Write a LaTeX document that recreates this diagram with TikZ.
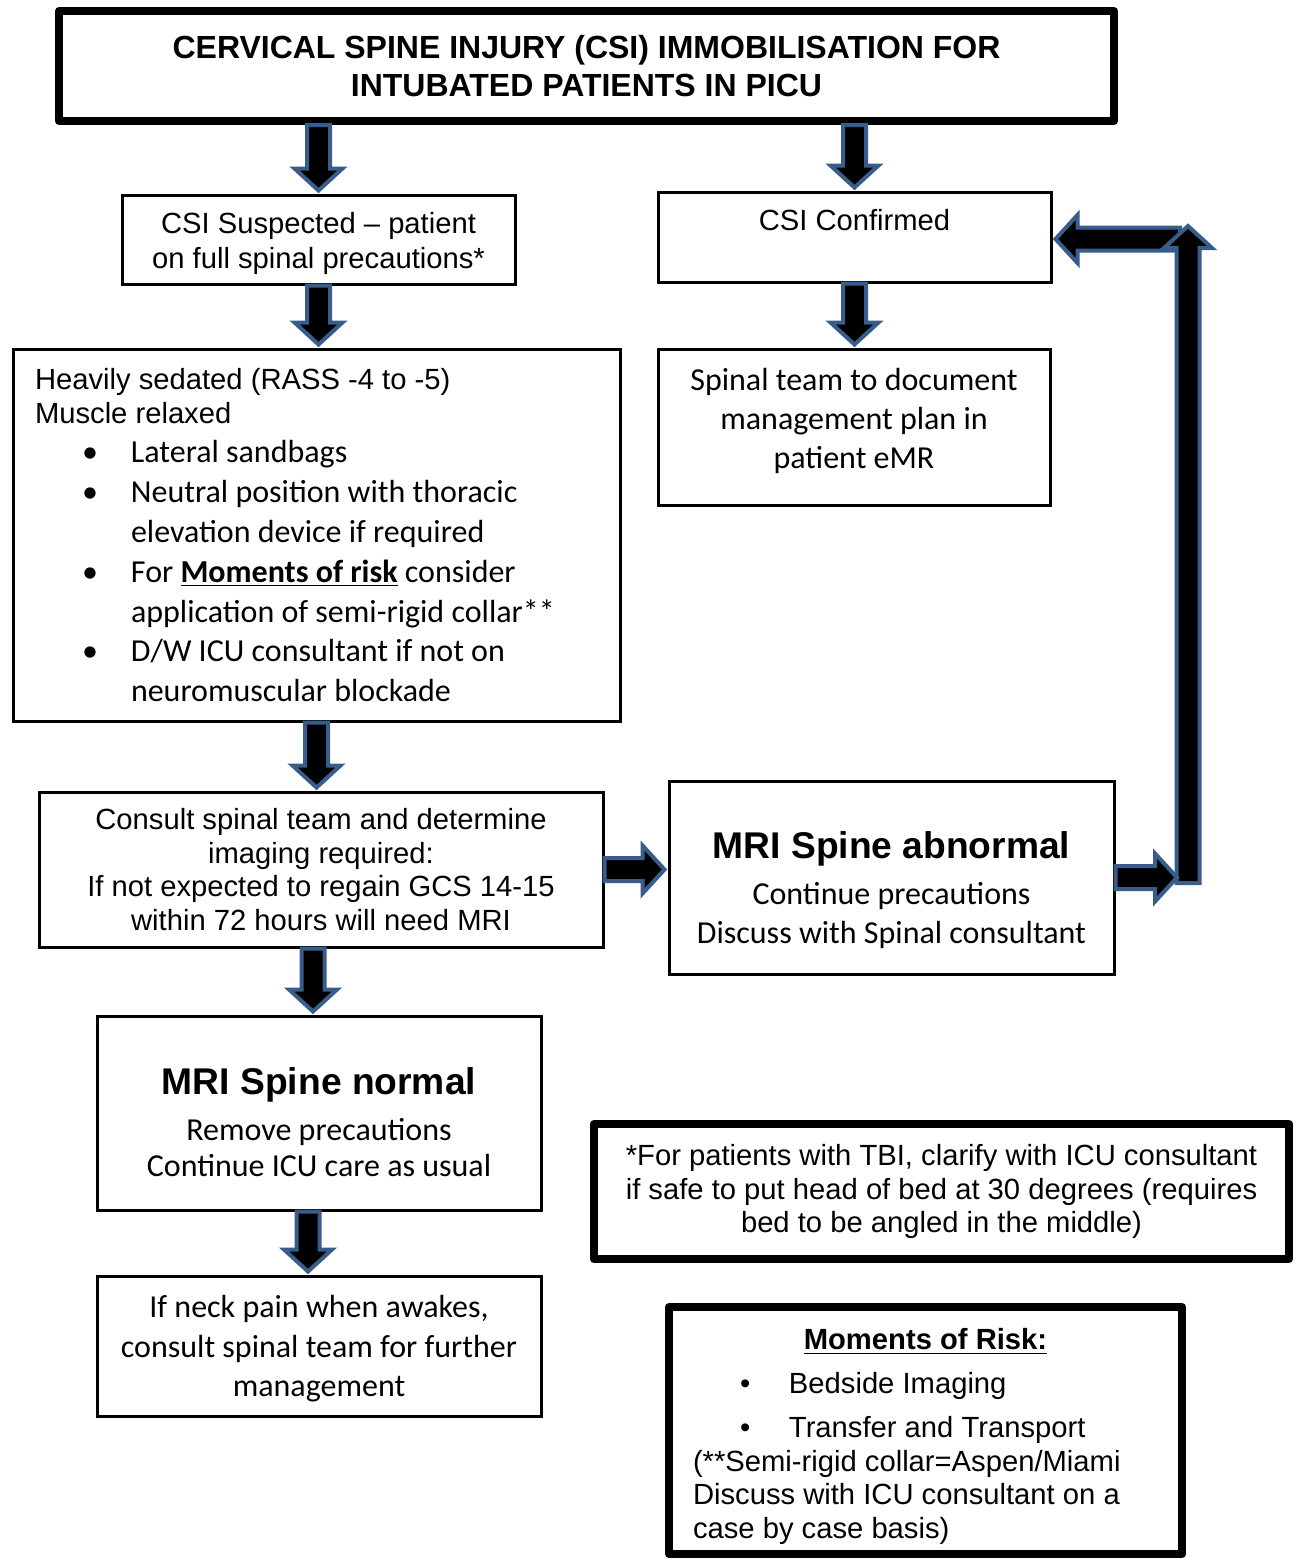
\documentclass[tikz,border=0pt]{standalone}
\usepackage{fontspec}
\setmainfont{Liberation Sans}
\newfontfamily\calibri{Carlito}
\usepackage{tikz}
\usetikzlibrary{calc}
\usetikzlibrary{positioning}
\definecolor{ArrowBlue}{RGB}{56,93,138}
\tikzset{
	box/.style={draw, line width=1.5pt, inner sep=0pt, align=flush center},
	heavybox/.style={draw, line width=4pt, line join=round, inner sep=0pt, align=flush center},
	blockarrow/.style={fill=black, draw=ArrowBlue, line width=2pt, line join=miter}
}
\newcommand{\arialText}[1]{\rmfamily\fontsize{14.6}{#1}\selectfont}
\newcommand{\calibriText}[1]{\calibri\fontsize{16}{#1}\selectfont}
\newcommand{\boxTitle}{\rmfamily\bfseries\fontsize{18.6}{22}\selectfont}
\newcommand{\bul}{\makebox[48pt][l]{\hspace{23.5pt}\textbullet}}
\newcommand{\blockArrow}[2]{%
		\coordinate (a) at #1;
		\coordinate (t) at #2;
		\coordinate (b) at ($(t)!1.5pt!(a)$);
		\coordinate (h) at ($(b)!11pt!(a)$);
		
		\filldraw [blockarrow] ($(a)!5.75pt!90:(b)$) -- ($(h)!5.75pt!-90:(a)$)
								-- ($(h)!12pt!-90:(a)$)
								-- (b)
								-- ($(h)!12pt!90:(a)$)
								-- ($(h)!5.75pt!90:(a)$)
								-- ($(a)!5.75pt!-90:(b)$) -- cycle;
}

\begin{document}
\begin{tikzpicture}[x=0.5pt, y=-0.5pt]
	
		\useasboundingbox (0,0) rectangle (1296,1559);
		
		\node [heavybox, minimum width=527.5pt, minimum height=55pt, text width=520pt,
		       font=\bfseries\fontsize{16}{19}\selectfont] (title) at (586.5,66)
			{CERVICAL SPINE INJURY (CSI) IMMOBILISATION FOR\\INTUBATED PATIENTS IN PICU};
		
		\node [box, minimum width=196.5pt, minimum height=44.5pt, text width=190pt, font={\arialText{17.5}}] (susp) at (318.5,239.5)
			{\rule{0pt}{14.6pt}CSI Suspected – patient\\on full spinal precautions*};
		\node [box, minimum width=196.5pt, minimum height=45pt, text width=190pt, font={\arialText{17.5}}] (conf) at (854.5,237)
			{CSI Confirmed\\\mbox{}};
		\node [box, minimum width=196pt, minimum height=78pt, text width=190pt, font={\calibriText{19.5}}] (spinal) at (854,427)
			{Spinal team to document\\management plan in\\patient eMR\rule[-8.3pt]{0pt}{8.3pt}};
		
		\node [box, minimum width=303.5pt, minimum height=186pt, text width=281.5pt, align=flush left] (sedated) at (316.5,535) {%
			\arialText{17}Heavily sedated (RASS -4 to -5)\\Muscle relaxed\par
			\calibriText{19.9}%
			\bul Lateral sandbags\\
			\bul Neutral position with thoracic\\
			\hspace*{48pt}elevation device if required\\
			\bul For \underline{\textbf{Moments of risk}} consider\\
			\hspace*{48pt}application of semi-rigid collar**\\
			\bul D/W ICU consultant if not on\\
			\hspace*{48pt}neuromuscular blockade\par};
		
		\node [box, minimum width=282pt, minimum height=77.5pt, text width=276pt, font={\arialText{16.9}}] (consult) at (321,869.5)
			{Consult spinal team and determine\\imaging required:\\If not expected to regain GCS 14-15\\within 72 hours will need MRI};
		\node [box, minimum width=222.5pt, minimum height=96.5pt, text width=216pt, font={\calibriText{19.5}}] (mriab) at (891.5,877.5)
			{{\boxTitle\rule{0pt}{26pt}MRI Spine abnormal}\\[3.3pt]Continue precautions\\Discuss with Spinal consultant};
		\node [box, minimum width=222pt, minimum height=97pt, text width=216pt, font={\calibriText{18}}] (mrinorm) at (319,1113)
			{{\boxTitle\rule{0pt}{22.6pt}MRI Spine normal}\\[4.8pt]Remove precautions\\Continue ICU care as usual};
		\node [box, minimum width=222pt, minimum height=70pt, text width=216pt, font={\calibriText{19.75}}] (neck) at (319,1346)
			{\rule{0pt}{14.2pt}If neck pain when awakes,\\consult spinal team for further\\management};
		
		\node [heavybox, minimum width=347.5pt, minimum height=67.5pt, text width=340pt, font={\arialText{16.75}}] (tbi) at (941.5,1191.5)
			{*For patients with TBI, clarify with ICU consultant\\if safe to put head of bed at 30 degrees (requires\\bed to be angled in the middle)};
		\node [heavybox, minimum width=256.5pt, minimum height=123.5pt, text width=232.5pt, align=flush left, font={\arialText{17}}] (moments) at (925.5,1430.5) {%
			{\centering\bfseries\rule{0pt}{16.6pt}\underline{Moments of Risk:}\par}
			{\arialText{22}\bul Bedside Imaging\\\bul Transfer and Transport\par}
			{\arialText{16.75}(**Semi-rigid collar=Aspen/Miami\\Discuss with ICU consultant on a\\case by case basis)\par}};
		
		\coordinate (loopbot) at (1188,883);
		\coordinate (looptop) at (1188,223);
		\coordinate (loopturn) at (1180,239);
		\coordinate (loopjoin) at (1180,877.5);
		
		\blockArrow{(title.south -| susp.north)}{(susp.north)} %suspected
		\blockArrow{(title.south -| conf.north)}{(conf.north)} %confirmed
		\blockArrow{(susp.south)}{(susp.south |- sedated.north)}
		\blockArrow{(conf.south)}{(conf.south |- spinal.north)}
		\blockArrow{(sedated.south)}{(sedated.south |- consult.north)}
		\blockArrow{($(consult.south)+(-8,0)$)}{($(mrinorm.north)+(-6,0)$)}
		\blockArrow{($(mrinorm.south)+(-11,0)$)}{($(neck.north)+(-11,0)$)}
		\blockArrow{(consult.east)}{(consult.east -| mriab.west)}
		
		\blockArrow{(loopturn)}{(conf.east |- loopturn)} %back to confirmed
		\blockArrow{(loopbot)}{(looptop)}
		\blockArrow{(mriab.east)}{(loopjoin)}
	\end{tikzpicture}
\end{document}
